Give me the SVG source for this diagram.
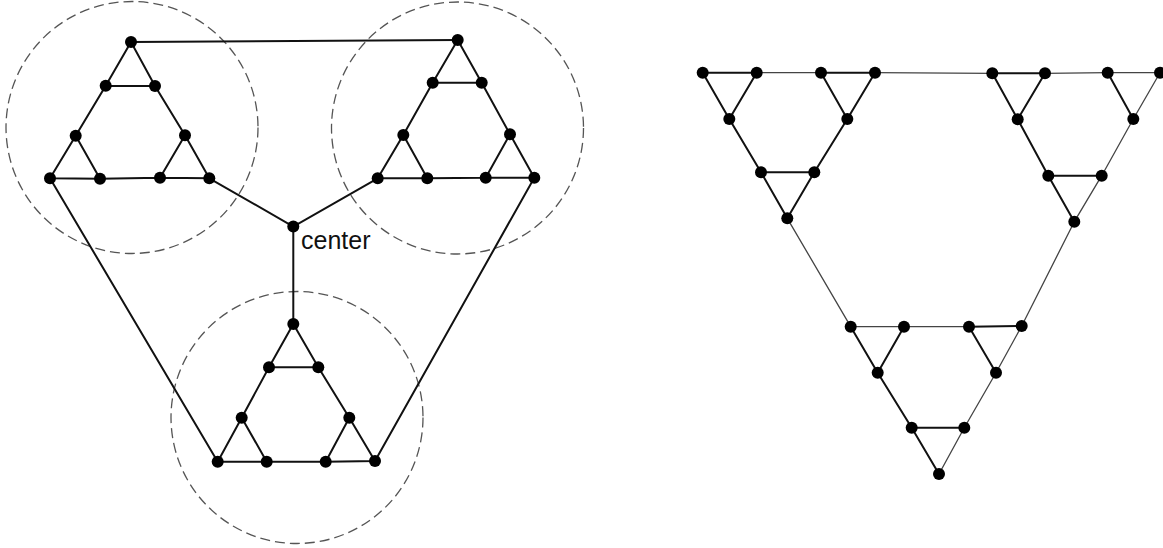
<svg xmlns="http://www.w3.org/2000/svg" width="1163" height="548" viewBox="0 0 1163 548">
<style>
.bg{fill:#fff}
.ring{fill:none;stroke:#555;stroke-width:1.3;stroke-dasharray:10 5}
.e{stroke:#111;stroke-width:2;fill:none;stroke-linecap:round}
.t{stroke:#444;stroke-width:1.3;fill:none}
.n{fill:#000}
.lbl{font-family:"Liberation Sans",Arial,sans-serif;font-size:25px;fill:#111}
</style>
<rect class="bg" x="0" y="0" width="1163" height="548"/>
<g id="rings">
<circle class="ring" cx="132" cy="127.5" r="126"/>
<circle class="ring" cx="457.5" cy="128" r="126"/>
<circle class="ring" cx="297" cy="417.5" r="126"/>
</g>
<g id="connectors">
<path class="e" d="M131,42 L105.7,85.7 L75.7,135.7 L50,178.3 L100,178.7 L160,177.7 L209.3,178.3 L185,135.3 L155,86 Z M105.7,85.7 L155,86 M75.7,135.7 L100,178.7 M185,135.3 L160,177.7"/>
<path class="e" d="M457.7,40 L432.7,82.7 L403.3,135 L377.7,178.3 L427.3,178.3 L485.7,177.7 L534.3,177.7 L510,134.3 L481.7,82.7 Z M432.7,82.7 L481.7,82.7 M403.3,135 L427.3,178.3 M510,134.3 L485.7,177.7"/>
<path class="e" d="M293.3,324 L269,367.3 L241.7,417.7 L217.7,461.7 L266.7,461.7 L325.7,461.7 L375,461 L349.3,417.7 L318.3,367.3 Z M269,367.3 L318.3,367.3 M241.7,417.7 L266.7,461.7 M349.3,417.7 L325.7,461.7"/>
<path class="e" d="M131,42 L457.7,40 M50,178.3 L217.7,461.7 M534.3,177.7 L375,461 M209.3,178.3 L293.3,226.5 L377.7,178.3 M293.3,226.5 L293.3,324"/>
<path class="e" d="M702.7,72.7 L756.7,72.7 M702.7,72.7 L729.3,119 L761,172.3 L787.3,218.3 M756.7,72.7 L729.3,119 M761,172.3 L814.3,172.3 L787.3,218.3 M821,72.7 L875,72.7 M821,72.7 L847.3,119 L814.3,172.3 M875,72.7 L847.3,119"/>
<path class="e" d="M992.3,73.3 L1045,73.3 M992.3,73.3 L1017.7,119.3 L1048.3,175.7 L1074.3,221.7 M1045,73.3 L1017.7,119.3 M1048.3,175.7 L1101.7,175.7 M1107.7,72.7 L1133.3,119"/>
<path class="e" d="M850.7,326.7 L877.7,372.7 L911.7,427.7 L939,474 M904,326.7 L877.7,372.7 M911.7,427.7 L964.3,427.7 M969,326.7 L1021.7,326 M969,326.7 L996,372.7"/>
<path class="t" d="M756.7,72.7 L821,72.7 M875,72.7 L992.3,73.3 M1045,73.3 L1107.7,72.7 L1160,72.7 M1160,72.7 L1133.3,119 L1101.7,175.7 L1074.3,221.7 M787.3,218.3 L850.7,326.7 M1074.3,221.7 L1021.7,326 M850.7,326.7 L904,326.7 L969,326.7 M1021.7,326 L996,372.7 L964.3,427.7 L939,474"/>
</g>
<g id="nodes-left" class="n">
<circle cx="131" cy="42" r="6"/><circle cx="105.7" cy="85.7" r="6"/><circle cx="155" cy="86" r="6"/><circle cx="75.7" cy="135.7" r="6"/><circle cx="185" cy="135.3" r="6"/><circle cx="50" cy="178.3" r="6"/><circle cx="100" cy="178.7" r="6"/><circle cx="160" cy="177.7" r="6"/><circle cx="209.3" cy="178.3" r="6"/>
<circle cx="457.7" cy="40" r="6"/><circle cx="432.7" cy="82.7" r="6"/><circle cx="481.7" cy="82.7" r="6"/><circle cx="403.3" cy="135" r="6"/><circle cx="510" cy="134.3" r="6"/><circle cx="377.7" cy="178.3" r="6"/><circle cx="427.3" cy="178.3" r="6"/><circle cx="485.7" cy="177.7" r="6"/><circle cx="534.3" cy="177.7" r="6"/>
<circle cx="293.3" cy="324" r="6"/><circle cx="269" cy="367.3" r="6"/><circle cx="318.3" cy="367.3" r="6"/><circle cx="241.7" cy="417.7" r="6"/><circle cx="349.3" cy="417.7" r="6"/><circle cx="217.7" cy="461.7" r="6"/><circle cx="266.7" cy="461.7" r="6"/><circle cx="325.7" cy="461.7" r="6"/><circle cx="375" cy="461" r="6"/>
</g>
<g id="center">
<circle class="n" cx="293.3" cy="226.5" r="6"/>
<text class="lbl" x="301" y="249">center</text>
</g>
<g id="nodes-right" class="n">
<circle cx="702.7" cy="72.7" r="6"/><circle cx="756.7" cy="72.7" r="6"/><circle cx="821" cy="72.7" r="6"/><circle cx="875" cy="72.7" r="6"/><circle cx="729.3" cy="119" r="6"/><circle cx="847.3" cy="119" r="6"/><circle cx="761" cy="172.3" r="6"/><circle cx="814.3" cy="172.3" r="6"/><circle cx="787.3" cy="218.3" r="6"/>
<circle cx="992.3" cy="73.3" r="6"/><circle cx="1045" cy="73.3" r="6"/><circle cx="1107.7" cy="72.7" r="6"/><circle cx="1160" cy="72.7" r="6"/><circle cx="1017.7" cy="119.3" r="6"/><circle cx="1133.3" cy="119" r="6"/><circle cx="1048.3" cy="175.7" r="6"/><circle cx="1101.7" cy="175.7" r="6"/><circle cx="1074.3" cy="221.7" r="6"/>
<circle cx="850.7" cy="326.7" r="6"/><circle cx="904" cy="326.7" r="6"/><circle cx="969" cy="326.7" r="6"/><circle cx="1021.7" cy="326" r="6"/><circle cx="877.7" cy="372.7" r="6"/><circle cx="996" cy="372.7" r="6"/><circle cx="911.7" cy="427.7" r="6"/><circle cx="964.3" cy="427.7" r="6"/><circle cx="939" cy="474" r="6"/>
</g>
</svg>
